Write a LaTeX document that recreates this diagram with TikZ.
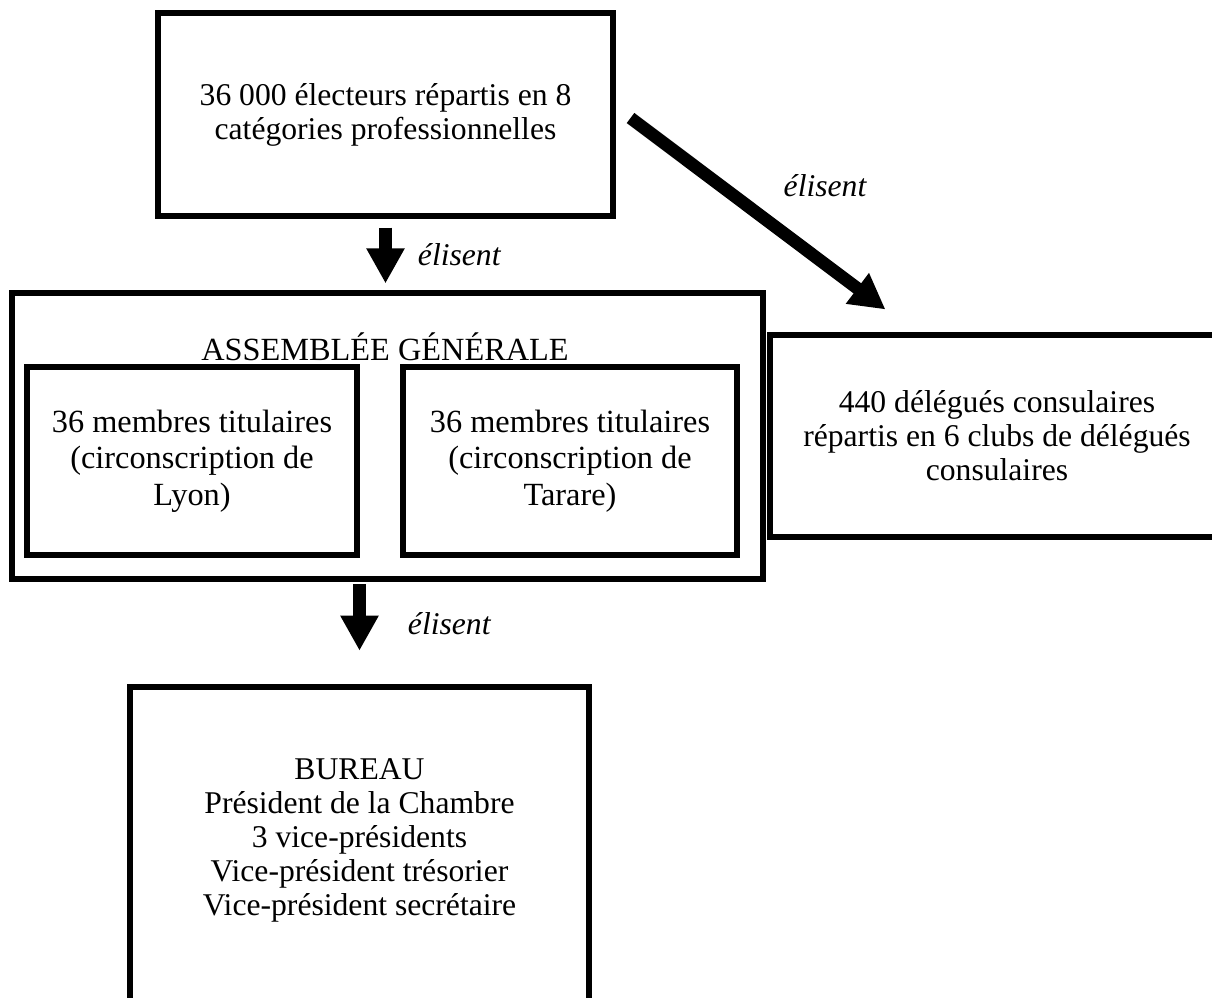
\documentclass[tikz,border=0pt]{standalone}
\usepackage{fontspec}
\setmainfont{Liberation Serif}
\usetikzlibrary{arrows.meta,positioning}

\begin{document}
\begin{tikzpicture}[x=0.025cm,y=-0.025cm,
	box/.style={draw,line width=3.6pt,align=center,inner sep=0pt,font=\fontsize{22.5}{24.2}\selectfont},
	inbox/.style={box,font=\fontsize{23}{26}\selectfont},
	fat/.style={line width=9pt,-{Triangle[width=25.6pt,length=25pt]}},
	lbl/.style={font=\fontsize{22.5}{24}\selectfont\itshape}]
	\newcommand\px{0.025cm}

	\useasboundingbox (0,0) rectangle (1212,998);

	% boites
	\node[box,minimum width=455*\px,minimum height=203*\px] (electeurs) at (385.5,114.5) {36 000 électeurs répartis en 8\\catégories professionnelles};
	\node[box,minimum width=751*\px,minimum height=286*\px] (assemblee) at (387.5,436) {};
	\node[inbox,draw=none] (titre) at (385,347) {ASSEMBLÉE GÉNÉRALE};
	\node[inbox,minimum width=330*\px,minimum height=188*\px] (lyon) at (192,461) {36 membres titulaires\\(circonscription de\\Lyon)};
	\node[inbox,minimum width=334*\px,minimum height=188*\px] (tarare) at (570,461) {36 membres titulaires\\(circonscription de\\Tarare)};
	\node[box,minimum width=454*\px,minimum height=202*\px] (delegues) at (997,436) {440 délégués consulaires\\répartis en 6 clubs de délégués\\consulaires};
	\node[box,minimum width=459*\px,minimum height=330*\px] (bureau) at (359.5,852) {};
	\node[box,draw=none] (membres) at (359.5,840) {BUREAU\\Président de la Chambre\\3 vice-présidents\\Vice-président trésorier\\Vice-président secrétaire};

	% fleches
	\draw[fat,shorten <=6.4pt,shorten >=5pt] (electeurs.south) -- (electeurs.south |- assemblee.north);
	\draw[fat,shorten <=2pt,shorten >=24pt] (bureau.north |- assemblee.south) -- (bureau.north);
	\draw[fat] ([shift={(15,3.5)}]electeurs.east) -- ([shift={(118,-23)}]delegues.north west);

	\node[lbl,anchor=west] (el1) at (413,255) {élisent};
	\node[lbl,anchor=west] (el2) at (403,624) {élisent};
	\node[lbl] (el3) at (825,186) {élisent};
\end{tikzpicture}
\end{document}
